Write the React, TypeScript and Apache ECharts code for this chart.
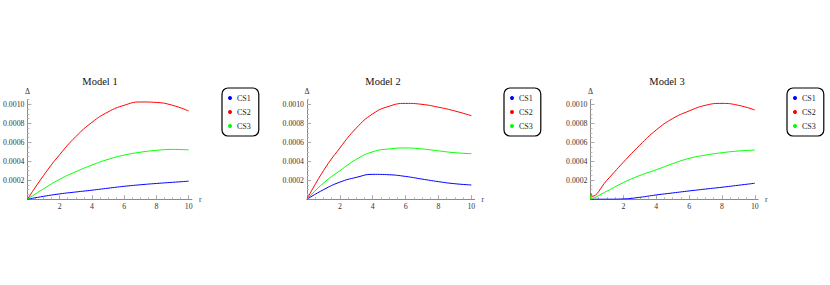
import React, { useEffect, useRef } from 'react';
import * as echarts from 'echarts';

// ---------- data ----------
const titles = ['Model 1', 'Model 2', 'Model 3'];
const seriesNames = ['CS1', 'CS2', 'CS3'];
const seriesColors = ['#0000ff', '#ff0000', '#00ff00'];

const rValues = [0, 1, 2, 3, 4, 5, 6, 7, 8, 9, 10];
const rValuesM3 = [0, 0.03, 0.08, 1, 2, 3, 4, 5, 6, 7, 8, 9, 10];

const m1CS1 = [0, 0.00003, 0.000056, 0.000076, 0.000095, 0.000116, 0.000136, 0.000152, 0.000166, 0.000178, 0.00019];
const m1CS2 = [0, 0.00025, 0.00047, 0.00066, 0.00081, 0.00092, 0.00099, 0.001025, 0.00102, 0.00099, 0.00093];
const m1CS3 = [0, 0.00011, 0.00021, 0.00029, 0.00036, 0.00042, 0.000465, 0.000495, 0.000515, 0.000525, 0.00052];

const m2CS1 = [0, 0.0001, 0.00018, 0.00023, 0.000262, 0.000258, 0.00024, 0.000212, 0.000185, 0.000163, 0.00015];
const m2CS2 = [0, 0.0003, 0.00054, 0.00075, 0.0009, 0.00098, 0.00101, 0.001, 0.00097, 0.00093, 0.00088];
const m2CS3 = [0, 0.00017, 0.0003, 0.00042, 0.0005, 0.00053, 0.00054, 0.00053, 0.00051, 0.00049, 0.00048];

const m3CS1 = [0, 0, 0, 0, 0.000003, 0.00002, 0.000045, 0.000066, 0.000087, 0.000107, 0.000126, 0.000147, 0.000168];
const m3CS2 = [0, 0.00006, 0.00003, 0.0002, 0.00039, 0.00057, 0.00073, 0.00085, 0.00093, 0.00099, 0.00101, 0.00099, 0.00094];
const m3CS3 = [0, 0.00005, 0.00001, 0.000085, 0.000175, 0.00025, 0.00031, 0.000375, 0.00043, 0.000465, 0.00049, 0.000508, 0.000518];

const xTickLabels = [2, 4, 6, 8, 10];
const xMinorTicks = [0.5, 1, 1.5, 2.5, 3, 3.5, 4.5, 5, 5.5, 6.5, 7, 7.5, 8.5, 9, 9.5];
const yTickLabels = [0.0002, 0.0004, 0.0006, 0.0008, 0.001];
const yMinorTicks = [
  0.00005, 0.0001, 0.00015, 0.00025, 0.0003, 0.00035, 0.00045, 0.0005, 0.00055,
  0.00065, 0.0007, 0.00075, 0.00085, 0.0009, 0.00095, 0.00105,
];

const panels = [
  { x: rValues, ys: [m1CS1, m1CS2, m1CS3] },
  { x: rValues, ys: [m2CS1, m2CS2, m2CS3] },
  { x: rValuesM3, ys: [m3CS1, m3CS2, m3CS3] },
];

// ---------- layout ----------
const FONT = '"Liberation Serif", "DejaVu Serif", serif';
const gridLefts = [24.3, 307, 590.5];
const gridTop = 99.6;
const gridHeight = 99.6;
const gridWidth = 167.6; // 0..10.2
const X_MAX = 10.2;
const Y_MAX = 0.00105;
const titleCenters = [100, 383, 667];
const legendLefts = [222, 504, 787];

function buildOption() {
  const grid: any[] = [];
  const xAxis: any[] = [];
  const yAxis: any[] = [];
  const series: any[] = [];
  const title: any[] = [];
  const legend: any[] = [];

  panels.forEach((p, i) => {
    grid.push({ left: gridLefts[i], top: gridTop, width: gridWidth, height: gridHeight, containLabel: false });

    xAxis.push({
      type: 'value', gridIndex: i, position: 'bottom', min: 0, max: X_MAX,
      axisLine: { show: true, onZero: false, lineStyle: { color: '#8a8a8a', width: 1 } },
      axisTick: { show: true, inside: true, length: 4, customValues: xTickLabels, lineStyle: { color: '#aaaaaa' } },
      axisLabel: { show: true, customValues: xTickLabels, margin: 3, fontSize: 7.8, fontFamily: FONT, color: '#333' },
      splitLine: { show: false },
      name: 'r', nameLocation: 'end', nameGap: 7,
      nameTextStyle: { fontSize: 7.8, fontFamily: FONT, color: '#333' },
    });
    xAxis.push({
      type: 'value', gridIndex: i, position: 'bottom', min: 0, max: X_MAX,
      axisLine: { show: false, onZero: false },
      axisTick: { show: true, inside: true, length: 2, customValues: xMinorTicks, lineStyle: { color: '#bbbbbb' } },
      axisLabel: { show: false },
      splitLine: { show: false },
    });
    yAxis.push({
      type: 'value', gridIndex: i, position: 'left', min: 0, max: Y_MAX,
      axisLine: { show: true, onZero: false, lineStyle: { color: '#8a8a8a', width: 1 } },
      axisTick: { show: true, inside: true, length: 4, customValues: yTickLabels, lineStyle: { color: '#aaaaaa' } },
      axisLabel: {
        show: true, customValues: yTickLabels, margin: 3, fontSize: 7.8, fontFamily: FONT, color: '#333',
        formatter: (v: number) => v.toFixed(4),
      },
      splitLine: { show: false },
      name: 'Δ', nameLocation: 'end', nameGap: 4,
      nameTextStyle: { fontSize: 7.8, fontFamily: FONT, color: '#333' },
    });
    yAxis.push({
      type: 'value', gridIndex: i, position: 'left', min: 0, max: Y_MAX,
      axisLine: { show: false, onZero: false },
      axisTick: { show: true, inside: true, length: 2, customValues: yMinorTicks, lineStyle: { color: '#bbbbbb' } },
      axisLabel: { show: false },
      splitLine: { show: false },
    });

    p.ys.forEach((ys, k) => {
      series.push({
        type: 'line', name: seriesNames[k],
        xAxisIndex: i * 2, yAxisIndex: i * 2,
        data: p.x.map((xv, j) => [xv, ys[j]]),
        smooth: 0.5, showSymbol: false, symbol: 'none',
        lineStyle: { color: seriesColors[k], width: 1 },
        itemStyle: { color: seriesColors[k] },
        z: 3,
      });
    });

    title.push({
      text: titles[i], left: titleCenters[i], top: 81, padding: 0,
      textAlign: 'center', textVerticalAlign: 'middle',
      textStyle: { fontSize: 10.5, fontWeight: 'normal', fontFamily: FONT, color: '#111' },
    });

    legend.push({
      show: true, orient: 'vertical', left: legendLefts[i], top: 88,
      data: seriesNames, icon: 'circle', itemWidth: 4, itemHeight: 4, itemGap: 6,
      padding: [6, 8, 6, 6], borderColor: '#000', borderWidth: 1.2, borderRadius: 6,
      backgroundColor: '#fff', selectedMode: false,
      textStyle: { fontSize: 8, fontFamily: FONT, color: '#222' },
    });
  });

  return { animation: false, backgroundColor: '#fff', grid, xAxis, yAxis, series, title, legend };
}

export default function App() {
  const ref = useRef<HTMLDivElement>(null);
  useEffect(() => {
    if (!ref.current) return;
    const chart = echarts.init(ref.current, undefined, { renderer: 'svg' });
    chart.setOption(buildOption() as any);
    return () => chart.dispose();
  }, []);
  return (
    <div
      ref={ref}
      style={{ position: 'fixed', left: 0, top: 0, width: 830, height: 285, background: '#fff' }}
    />
  );
}
